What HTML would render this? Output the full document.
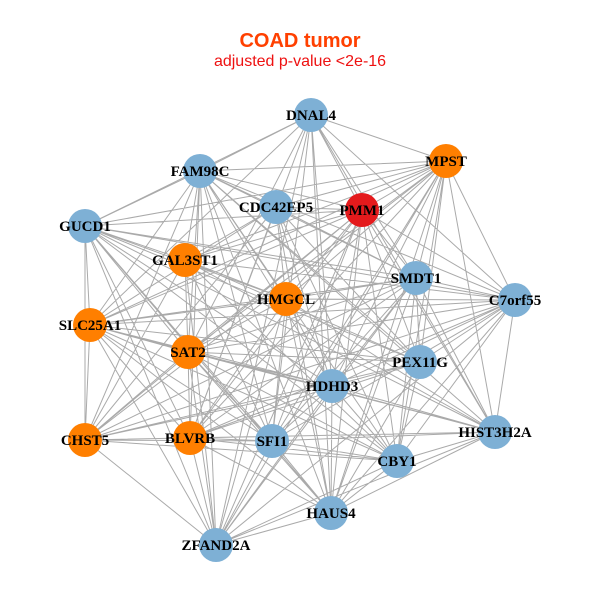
<!DOCTYPE html>
<html><head><meta charset="utf-8"><style>
html,body{margin:0;padding:0;background:#fff;}
svg{display:block;}
</style></head><body>
<svg id="g" width="600" height="600" xmlns="http://www.w3.org/2000/svg">
<rect width="600" height="600" fill="#fff"/>
<text x="300" y="47" text-anchor="middle" font-family="Liberation Sans, sans-serif" font-weight="bold" font-size="20" fill="#ff4000">COAD tumor</text>
<text x="300" y="66" text-anchor="middle" font-family="Liberation Sans, sans-serif" font-size="16" fill="#ee1111">adjusted p-value &lt;2e-16</text>
<g id="edges" stroke="#aaaaaa" stroke-width="1" fill="none"></g>
<g id="nodes"></g>
</svg>
<script>
var N=[
["DNAL4",311,115,"b"],["MPST",446,161,"o"],["FAM98C",200,171,"b"],["CDC42EP5",276,207,"b"],
["PMM1",362,210,"r"],["GUCD1",85,226,"b"],["GAL3ST1",185,260,"o"],["SMDT1",416,278,"b"],
["C7orf55",515,300,"b"],["HMGCL",286,299,"o"],["SLC25A1",90,325,"o"],["SAT2",188,352,"o"],
["PEX11G",420,362,"b"],["HDHD3",332,386,"b"],["HIST3H2A",495,432,"b"],["CHST5",85,440,"o"],
["BLVRB",190,438,"o"],["SFI1",272,441,"b"],["CBY1",397,461,"b"],["HAUS4",331,513,"b"],["ZFAND2A",216,545,"b"]];
var col={b:"#7eb0d5",o:"#ff7f00",r:"#e41a1c"};
var ns="http://www.w3.org/2000/svg",E=document.getElementById("edges"),G=document.getElementById("nodes");
var d="";
for(var i=0;i<N.length;i++)for(var j=i+1;j<N.length;j++){
 if((i*7+j*3)%9==0)continue;
 d+="M"+N[i][1]+" "+N[i][2]+"L"+N[j][1]+" "+N[j][2];}
var p=document.createElementNS(ns,"path");p.setAttribute("d",d);E.appendChild(p);
N.forEach(function(n){
 var c=document.createElementNS(ns,"circle");c.setAttribute("cx",n[1]);c.setAttribute("cy",n[2]);c.setAttribute("r",17);c.setAttribute("fill",col[n[3]]);G.appendChild(c);
});
N.forEach(function(n){
 var t=document.createElementNS(ns,"text");t.setAttribute("x",n[1]);t.setAttribute("y",n[2]+5);
 t.setAttribute("text-anchor","middle");t.setAttribute("font-family","Liberation Serif, serif");
 t.setAttribute("font-weight","bold");t.setAttribute("font-size","15");t.textContent=n[0];G.appendChild(t);
});
</script>
</body></html>
